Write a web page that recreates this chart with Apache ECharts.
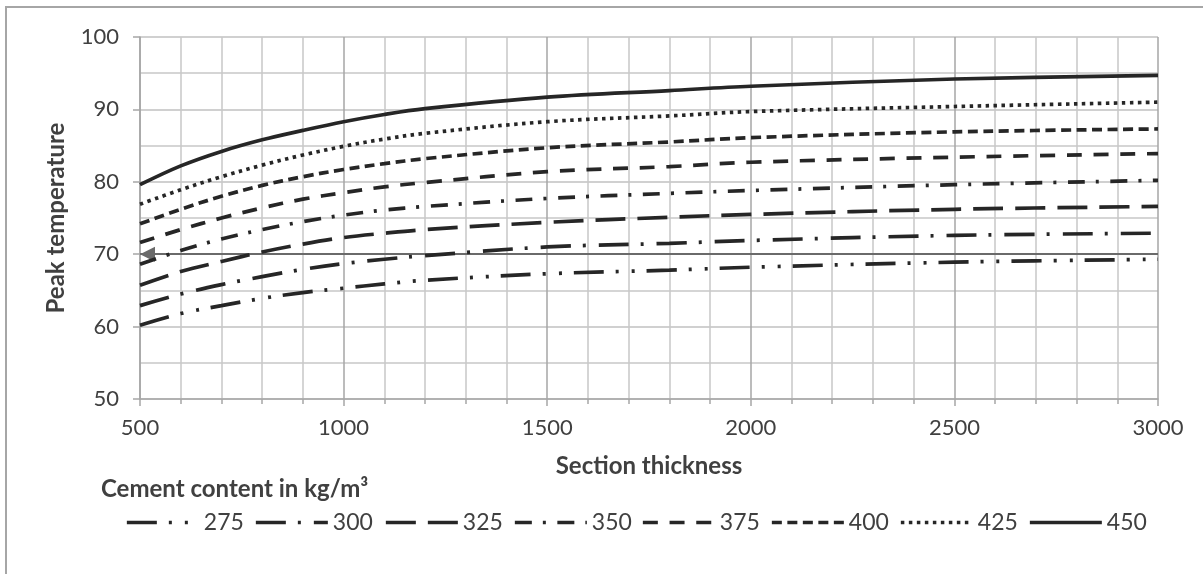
<!DOCTYPE html>
<html>
<head>
<meta charset="utf-8">
<script src="https://cdn.jsdelivr.net/npm/echarts@6/dist/echarts.min.js"></script>
<style>
html,body{margin:0;padding:0;background:#fff;}
#chart{width:1203px;height:574px;}
</style>
</head>
<body>
<div id="chart"></div>
<script>
// ---- data ----
var thickness = [500, 600, 700, 800, 900, 1000, 1100, 1200, 1500, 1800, 2000, 2500, 3000];
var cementContents = ['275', '300', '325', '350', '375', '400', '425', '450'];
var peak275 = [60.2, 61.8, 62.9, 63.9, 64.7, 65.3, 65.9, 66.4, 67.3, 67.8, 68.2, 68.9, 69.3];
var peak300 = [62.9, 64.5, 65.8, 66.9, 67.9, 68.7, 69.3, 69.8, 71.0, 71.5, 71.9, 72.6, 72.9];
var peak325 = [65.7, 67.6, 69.0, 70.3, 71.4, 72.3, 72.9, 73.4, 74.4, 75.1, 75.5, 76.2, 76.6];
var peak350 = [68.6, 70.5, 72.1, 73.4, 74.5, 75.4, 76.1, 76.6, 77.7, 78.4, 78.8, 79.6, 80.2];
var peak375 = [71.6, 73.4, 75.0, 76.4, 77.6, 78.5, 79.3, 79.9, 81.4, 82.1, 82.7, 83.4, 83.9];
var peak400 = [74.2, 76.2, 78.0, 79.5, 80.7, 81.7, 82.5, 83.2, 84.7, 85.5, 86.1, 86.9, 87.3];
var peak425 = [76.9, 78.9, 80.7, 82.3, 83.7, 84.9, 85.9, 86.7, 88.3, 89.1, 89.7, 90.4, 91.0];
var peak450 = [79.6, 82.2, 84.2, 85.8, 87.1, 88.3, 89.3, 90.1, 91.7, 92.6, 93.2, 94.2, 94.7];
var referenceTemp = 70;

var allPeaks = [peak275, peak300, peak325, peak350, peak375, peak400, peak425, peak450];
var dashes = [
  [30, 12, 3, 13, 3, 12],
  [30, 12, 3, 13],
  [30, 12],
  [17, 11, 3, 11.5],
  [15, 11.7],
  [10, 5.5],
  [3.5, 4.5],
  'solid'
];
var legendLeft = [120, 249, 379, 508, 636, 765, 894, 1023];

var FONT = 'Lato';
var TXT = '#404040';
var LINE = '#262626';

var series = cementContents.map(function (name, i) {
  var s = {
    name: name,
    type: 'line',
    smooth: 0.35,
    symbol: 'none',
    data: thickness.map(function (t, j) { return [t, allPeaks[i][j]]; }),
    lineStyle: { color: LINE, width: 3.7, type: dashes[i], cap: 'butt' },
    itemStyle: { color: LINE },
    z: 3
  };
  if (i === 0) {
    s.markLine = {
      silent: true,
      symbol: ['triangle', 'none'],
      symbolSize: [15, 15],
      symbolOffset: [[0, 7.5], 0],
      label: { show: false },
      lineStyle: { color: '#6a6a6a', width: 2, type: 'solid' },
      itemStyle: { color: '#5a5a5a' },
      data: [{ yAxis: referenceTemp }],
      z: 2
    };
  }
  return s;
});

var legends = cementContents.map(function (name, i) {
  return {
    data: [name],
    left: legendLeft[i],
    top: 506,
    itemWidth: 72,
    itemHeight: 26,
    itemGap: 0,
    selectedMode: false,
    textStyle: { fontFamily: FONT, fontSize: 23, color: TXT },
    lineStyle: { width: 3.7 },
    itemStyle: { color: 'transparent', borderWidth: 0, opacity: 0 }
  };
});

var chart = echarts.init(document.getElementById('chart'), null, { renderer: 'canvas' });
chart.setOption({
  animation: false,
  backgroundColor: '#ffffff',
  textStyle: { fontFamily: FONT },
  grid: { left: 140, right: 45, top: 37, bottom: 175, containLabel: false },
  legend: legends,
  xAxis: {
    type: 'value',
    min: 500, max: 3000, interval: 500,
    name: 'Section thickness',
    nameLocation: 'middle',
    nameGap: 55,
    nameTextStyle: { fontFamily: FONT, fontSize: 24, fontWeight: 'bold', color: TXT },
    axisLine: { show: true, lineStyle: { color: '#a6a6a6', width: 1.5 } },
    axisTick: { show: true, length: 7, lineStyle: { color: '#a6a6a6', width: 1.5 } },
    minorTick: { show: true, splitNumber: 5, length: 5, lineStyle: { color: '#a6a6a6', width: 1.5 } },
    axisLabel: { fontFamily: FONT, fontSize: 22, color: TXT, margin: 18, formatter: function (v) { return String(v); } },
    splitLine: { show: true, lineStyle: { color: '#a6a6a6', width: 1.5 } },
    minorSplitLine: { show: true, lineStyle: { color: '#c8c8c8', width: 1.5 } }
  },
  yAxis: {
    type: 'value',
    min: 50, max: 100, interval: 10,
    name: 'Peak temperature',
    nameLocation: 'middle',
    nameGap: 72,
    nameTextStyle: { fontFamily: FONT, fontSize: 24, fontWeight: 'bold', color: TXT },
    axisLine: { show: true, lineStyle: { color: '#a6a6a6', width: 1.5 } },
    axisTick: { show: true, length: 7, lineStyle: { color: '#a6a6a6', width: 1.5 } },
    minorTick: { show: false, splitNumber: 2 },
    axisLabel: { fontFamily: FONT, fontSize: 22, color: TXT, margin: 21 },
    splitLine: { show: true, lineStyle: { color: '#c0c0c0', width: 1.5 } },
    minorSplitLine: { show: true, lineStyle: { color: '#c8c8c8', width: 1.5 } }
  },
  graphic: [
    {
      type: 'rect',
      shape: { x: 6, y: 7, width: 1220, height: 600 },
      style: { fill: 'none', stroke: '#a6a6a6', lineWidth: 2 },
      silent: true, z: -1
    },
    {
      type: 'text',
      left: 101, top: 477,
      style: { text: 'Cement content in kg/m\u00b3', fontFamily: FONT, fontSize: 24, fontWeight: 'bold', fill: TXT },
      silent: true
    }
  ],
  series: series
});
</script>
</body>
</html>
